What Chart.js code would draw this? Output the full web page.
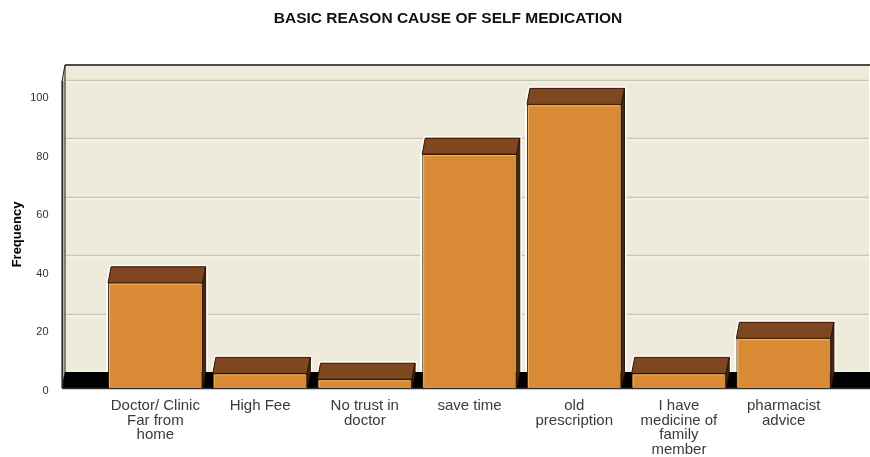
<!DOCTYPE html>
<html>
<head>
<meta charset="utf-8">
<script src="https://cdn.jsdelivr.net/npm/chart.js@4"></script>
<style>
html,body{margin:0;padding:0;background:#fff}
#contgraf{width:870px;height:457px}
</style>
</head>
<body>
<div id="contgraf"><canvas id="grafico"></canvas></div>
<script>
// datos
var categorias=[["Doctor/ Clinic","Far from","home"],["High Fee"],["No trust in","doctor"],["save time"],["old","prescription"],["I have","medicine of","family","member"],["pharmacist","advice"]];
var frecuencias=[36,5,3,80,97,5,17];
var marcasY=[0,20,40,60,80,100];
var titulo="BASIC REASON CAUSE OF SELF MEDICATION";

var fuente='"Liberation Sans", Arial, sans-serif';
var prof={dx:3,dy:16};

function Grafico3d(){
	'use strict';
	var that=this;
	that.caja=function(ctx,l,r,t,b){
		// silueta de la barra con su cara superior y lateral
		ctx.beginPath();
		ctx.moveTo(l,b);ctx.lineTo(l,t);ctx.lineTo(l+prof.dx,t-prof.dy);
		ctx.lineTo(r+prof.dx,t-prof.dy);ctx.lineTo(r+prof.dx,b-prof.dy);ctx.lineTo(r,b);
		ctx.closePath();
	}
	that.fondo={
		id:'fondo',
		beforeDatasetsDraw:function(chart){
			var ctx=chart.ctx,a=chart.chartArea,ys=chart.scales.y;
			var izq=a.left-41,der=a.right+30;
			var meta=chart.getDatasetMeta(0);
			ctx.save();
			// pared del fondo
			ctx.fillStyle="#efebdb";
			ctx.fillRect(izq+prof.dx,a.top-prof.dy,der-izq,a.bottom-a.top);
			// lineas de la rejilla
			$each(marcasY,function(v){
				if(v===0)return;
				var py=Math.round(ys.getPixelForValue(v)-prof.dy)+0.5;
				ctx.strokeStyle="#c8c5b6";ctx.lineWidth=1.5;
				ctx.beginPath();ctx.moveTo(izq+prof.dx,py);ctx.lineTo(der+prof.dx,py);ctx.stroke();
				ctx.strokeStyle="#faf8f0";ctx.lineWidth=1;
				ctx.beginPath();ctx.moveTo(izq+prof.dx,py+1.5);ctx.lineTo(der+prof.dx,py+1.5);ctx.stroke();
			});
			// borde superior
			ctx.strokeStyle="#4c4c4c";ctx.lineWidth=2;
			ctx.beginPath();ctx.moveTo(izq+prof.dx,a.top-prof.dy);ctx.lineTo(der+prof.dx+5,a.top-prof.dy);ctx.stroke();
			// halo blanco alrededor de las barras
			$each(meta.data,function(el){
				var p=el.getProps(['x','y','base','width'],true);
				that.caja(ctx,p.x-p.width/2,p.x+p.width/2,p.y,p.base);
				ctx.strokeStyle="#fff";ctx.lineWidth=4;ctx.lineJoin="round";ctx.stroke();
			});
			ctx.lineJoin="miter";
			// pared lateral izquierda
			ctx.fillStyle="#d8d5c6";ctx.strokeStyle="#222";ctx.lineWidth=1;
			ctx.beginPath();
			ctx.moveTo(izq,a.top);ctx.lineTo(izq+prof.dx,a.top-prof.dy);ctx.lineTo(izq+prof.dx,a.bottom-prof.dy);ctx.lineTo(izq,a.bottom);
			ctx.closePath();ctx.fill();ctx.stroke();
			// piso
			ctx.fillStyle="#000";
			ctx.beginPath();
			ctx.moveTo(izq,a.bottom);ctx.lineTo(izq+prof.dx,a.bottom-prof.dy);ctx.lineTo(der+prof.dx+5,a.bottom-prof.dy);ctx.lineTo(der+5,a.bottom);
			ctx.closePath();ctx.fill();
			ctx.strokeStyle="#333";ctx.lineWidth=1.5;
			ctx.beginPath();ctx.moveTo(izq,a.bottom+0.5);ctx.lineTo(der+5,a.bottom+0.5);ctx.stroke();
			ctx.beginPath();ctx.moveTo(izq+0.5,a.top);ctx.lineTo(izq+0.5,a.bottom);ctx.stroke();
			// caras de las barras
			$each(meta.data,function(el){
				var p=el.getProps(['x','y','base','width'],true);
				var l=p.x-p.width/2,r=p.x+p.width/2,t=p.y,b=p.base;
				ctx.fillStyle="#7e4720";ctx.strokeStyle="#2a170a";ctx.lineWidth=1;
				ctx.beginPath();
				ctx.moveTo(l,t);ctx.lineTo(l+prof.dx,t-prof.dy);ctx.lineTo(r+prof.dx,t-prof.dy);ctx.lineTo(r,t);
				ctx.closePath();ctx.fill();ctx.stroke();
				ctx.fillStyle="#4a280e";
				ctx.beginPath();
				ctx.moveTo(r,t);ctx.lineTo(r+prof.dx,t-prof.dy);ctx.lineTo(r+prof.dx,b-prof.dy);ctx.lineTo(r,b);
				ctx.closePath();ctx.fill();ctx.stroke();
			});
			ctx.restore();
		},
		afterDatasetsDraw:function(chart){
			var ctx=chart.ctx;
			var meta=chart.getDatasetMeta(0);
			ctx.save();
			ctx.strokeStyle="#f4b263";ctx.lineWidth=1;
			$each(meta.data,function(el){
				var p=el.getProps(['x','y','base','width'],true);
				var l=p.x-p.width/2,r=p.x+p.width/2;
				ctx.beginPath();
				ctx.moveTo(l+1.5,p.base-1);ctx.lineTo(l+1.5,p.y+1.5);ctx.lineTo(r-1.5,p.y+1.5);
				ctx.stroke();
			});
			// titulo
			ctx.fillStyle="#111";
			ctx.font="bold 15.5px "+fuente;
			ctx.textAlign="center";ctx.textBaseline="middle";
			ctx.fillText(titulo,448,19);
			ctx.restore();
		}
	}
}
function $each(arr,fn){for(var i=0;i<arr.length;i++){fn(arr[i],i)}}

var g3d=new Grafico3d();
new Chart(document.getElementById("grafico"),{
	type:'bar',
	data:{
		labels:categorias,
		datasets:[{
			label:"Frequency",
			data:frecuencias,
			backgroundColor:"#d98a35",
			borderColor:"#2f1c0a",
			borderWidth:1,
			barPercentage:0.903,
			categoryPercentage:1
		}]
	},
	options:{
		responsive:true,
		maintainAspectRatio:false,
		animation:false,
		layout:{padding:{left:8,right:34,top:81,bottom:0}},
		plugins:{legend:{display:false},tooltip:{enabled:false},title:{display:false}},
		scales:{
			x:{
				grid:{display:false},
				border:{display:false},
				ticks:{font:{family:fuente,size:15,lineHeight:0.96},color:"#3a3a3a",padding:3,maxRotation:0,autoSkip:false},
				afterFit:function(s){s.height=69}
			},
			y:{
				min:0,max:105,
				grid:{display:false},
				border:{display:false},
				afterBuildTicks:function(s){s.ticks=marcasY.map(function(v){return {value:v}})},
				ticks:{font:{family:fuente,size:11},color:"#333",padding:46.5,labelOffset:2.5},
				title:{display:true,text:"Frequency",font:{family:fuente,size:13,weight:"bold"},color:"#000",padding:{top:2,bottom:0}},
				afterFit:function(s){s.width=95}
			}
		}
	},
	plugins:[g3d.fondo]
});
</script>
</body>
</html>
